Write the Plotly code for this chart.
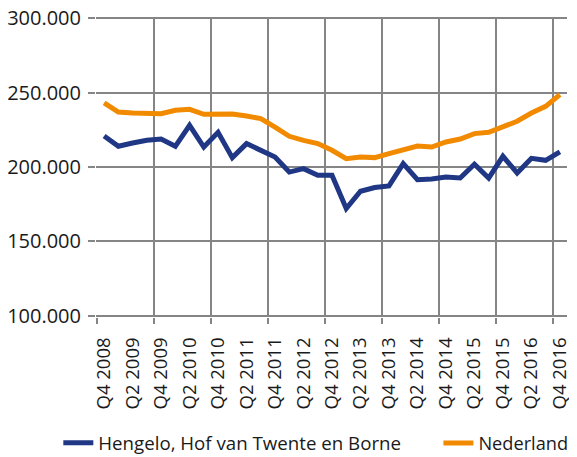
import plotly.graph_objects as go

# Kwartalen Q4 2008 t/m Q4 2016
quarters = [f"Q{q} {y}" for y in range(2008, 2017) for q in (1, 2, 3, 4)][3:]

hengelo = [220800, 213900, 216100, 217900, 218800, 213900, 228000, 213400, 223300,
           206300, 215700, 211200, 206700, 196600, 198900, 194400, 194400, 172100,
           183700, 186200, 187300, 202300, 191500, 191900, 193300, 192600, 201800,
           192600, 207200, 196000, 205800, 204500, 210100]

nederland = [243000, 236900, 236200, 235800, 235800, 238100, 238700, 235400, 235200,
             235600, 234200, 232500, 226800, 220600, 217900, 215700, 211200, 205600,
             206700, 206300, 209000, 211700, 214100, 213400, 216800, 218800, 222400,
             223300, 227300, 230700, 236200, 240700, 248600]

GRID = "#858585"
FONT = "Open Sans, Noto Sans, sans-serif"

x = list(range(len(quarters)))

fig = go.Figure()
fig.add_trace(go.Scatter(x=x, y=hengelo, name="Hengelo, Hof van Twente en Borne",
                         mode="lines", line=dict(color="#1f3784", width=5),
                         legend="legend"))
fig.add_trace(go.Scatter(x=x, y=nederland, name="Nederland",
                         mode="lines", line=dict(color="#f28a00", width=5),
                         legend="legend2"))

legend_style = dict(orientation="h", xanchor="left", yref="container", y=0.031,
                    yanchor="middle", bgcolor="rgba(0,0,0,0)")

# page body adds an 8px margin, so the figure is 8px smaller than the window.
# ranges are padded a little so the edge gridlines are not clipped in half
fig.update_layout(
    width=569, height=449,
    margin=dict(l=88, r=10, t=9, b=140, autoexpand=False),
    paper_bgcolor="white", plot_bgcolor="white",
    font=dict(family=FONT, size=18.5, color="#1a1a1a"),
    separators=",.",
    showlegend=True,
    legend=dict(x=-0.080, font=dict(size=18.7), **legend_style),
    legend2=dict(x=0.727, font=dict(size=18.2), **legend_style),
    xaxis=dict(
        range=[-0.57, len(quarters) - 0.5],
        tickmode="array", tickvals=x[::2], ticktext=quarters[::2],
        tickangle=-90, showgrid=False, zeroline=False, showline=False,
        ticks="outside", ticklen=12, tickcolor="rgba(0,0,0,0)",
        ticklabeloverflow="allow",
        minor=dict(tickmode="linear", tick0=-0.5, dtick=4, showgrid=True,
                   gridcolor=GRID, gridwidth=2, ticks="outside", ticklen=6,
                   tickcolor=GRID, tickwidth=2),
    ),
    yaxis=dict(
        range=[99300, 300700], tickmode="linear", tick0=100000, dtick=50000,
        tickformat=",d",
        tickfont=dict(size=20), ticklabeloverflow="allow", ticklabelstandoff=3,
        showgrid=True, gridcolor=GRID, gridwidth=2, zeroline=False,
        ticks="outside", ticklen=7, tickcolor=GRID, tickwidth=2,
    ),
)

fig.write_html("out.html")
